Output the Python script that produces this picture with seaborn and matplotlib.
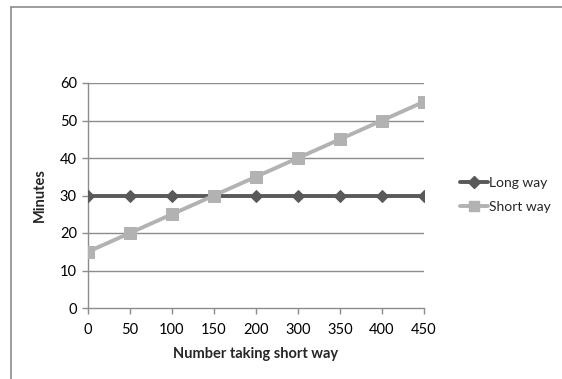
import matplotlib
matplotlib.use("Agg")
import matplotlib.pyplot as plt
import seaborn as sns
import pandas as pd
from matplotlib.lines import Line2D

categories = ["0", "50", "100", "150", "200", "300", "350", "400", "450"]
long_way = [30, 30, 30, 30, 30, 30, 30, 30, 30]
short_way = [15, 20, 25, 30, 35, 40, 45, 50, 55]
y_ticks = [0, 10, 20, 30, 40, 50, 60]

sns.set_theme(style="white")
plt.rcParams['font.family'] = ['Lato', 'DejaVu Sans']

pos = list(range(len(categories)))
df = pd.DataFrame({"pos": pos * 2,
                   "Minutes": long_way + short_way,
                   "series": ["Long way"] * len(pos) + ["Short way"] * len(pos)})

fig = plt.figure(figsize=(5.62, 3.79), dpi=100)
ax = fig.add_axes([88/562, 1-308/379, (424-88)/562, (308-83)/379])

dark = "#595959"
light = "#b2b2b2"
grid = "#8c8c8c"
fs = 10.5

for y in y_ticks[1:]:
    ax.axhline(y, color=grid, lw=1.0, zorder=0)

sns.lineplot(data=df[df.series == "Long way"], x="pos", y="Minutes", ax=ax,
             color=dark, lw=2.8, marker="D", markersize=6.5, markeredgecolor=dark,
             zorder=3, legend=False)
sns.lineplot(data=df[df.series == "Short way"], x="pos", y="Minutes", ax=ax,
             color=light, lw=2.8, marker="s", markersize=9, markeredgecolor=light,
             zorder=4, legend=False)

ax.set_xlim(0, len(categories) - 1)
ax.set_ylim(0, 60)
ax.set_xticks(pos)
ax.set_xticklabels(categories)
ax.set_yticks(y_ticks)
ax.tick_params(axis="both", labelsize=fs, colors=grid, labelcolor="black",
               direction="out", length=4, width=1, bottom=True, left=True, pad=4)
ax.tick_params(axis="x", pad=7)
for s in ["top", "right"]:
    ax.spines[s].set_visible(False)
for s in ["left", "bottom"]:
    ax.spines[s].set_color(grid)
    ax.spines[s].set_linewidth(1.0)
ax.set_xlabel("Number taking short way", fontsize=fs, fontweight="bold", labelpad=7)
ax.set_ylabel("Minutes", fontsize=fs, fontweight="bold", labelpad=9)

handles = [Line2D([], [], color=dark, lw=2.8, marker="D", markersize=6, markeredgecolor=dark),
           Line2D([], [], color=light, lw=2.8, marker="s", markersize=7.5, markeredgecolor=light)]
fig.legend(handles, ["Long way", "Short way"], loc="center left",
           bbox_to_anchor=(460/562, 1-195/379), frameon=False, fontsize=10,
           handlelength=2.0, handletextpad=0.1, labelspacing=0.85, borderaxespad=0,
           borderpad=0)

# chart border (left and top edges visible)
fig.add_artist(Line2D([11/562, 11/562], [0, 1-7/379], color="#8c8c8c", lw=1.2, transform=fig.transFigure))
fig.add_artist(Line2D([11/562, 1], [1-7/379, 1-7/379], color="#8c8c8c", lw=1.2, transform=fig.transFigure))

fig.savefig("out.png", dpi=100)
